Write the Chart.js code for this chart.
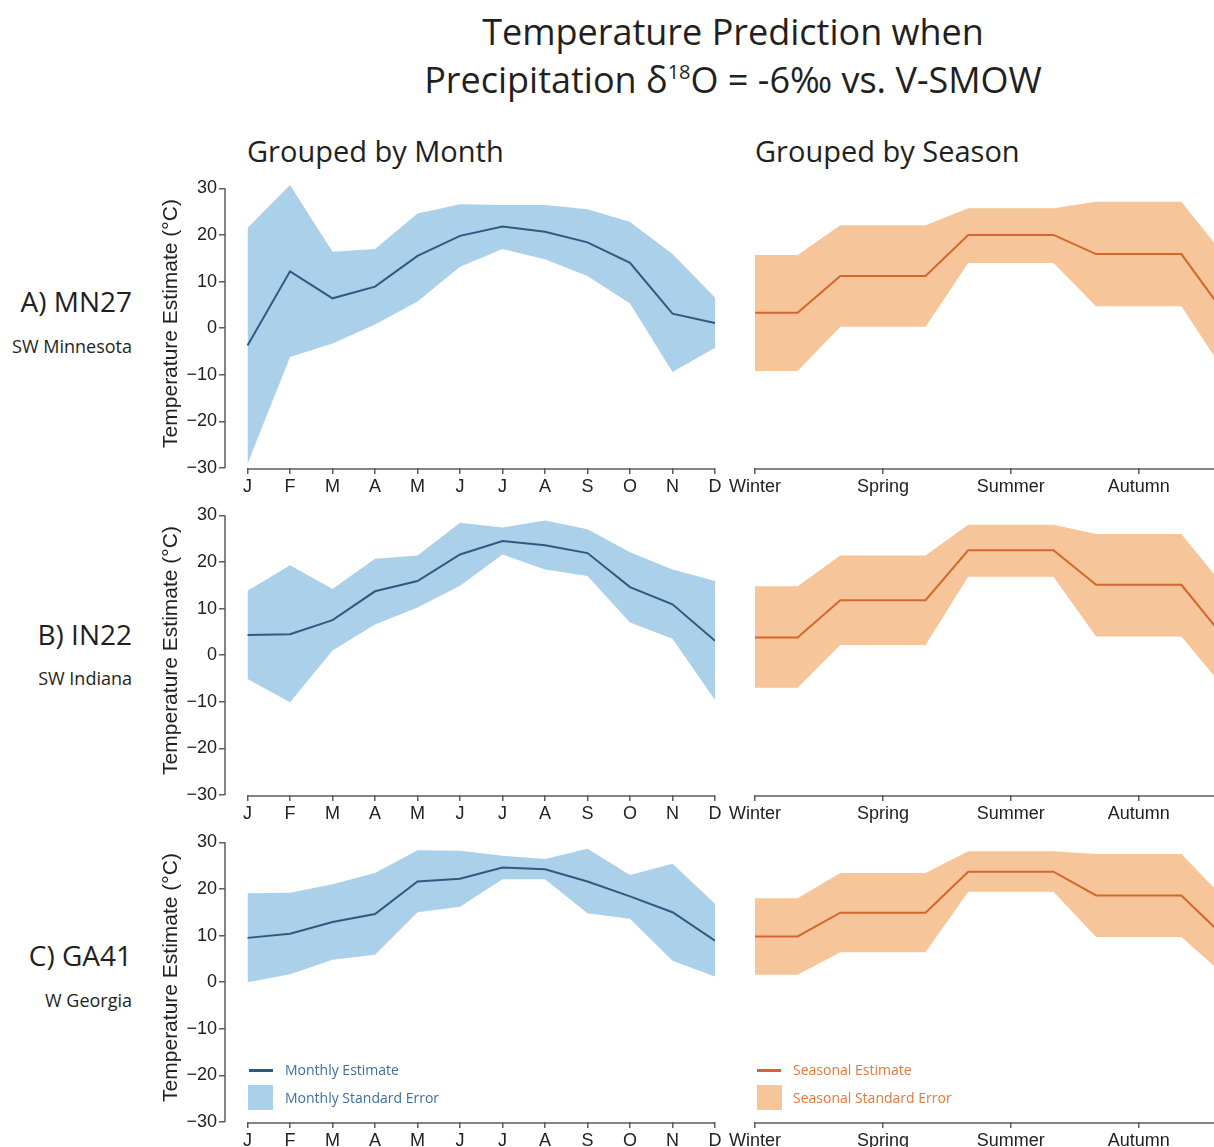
<!DOCTYPE html>
<html>
<head>
<meta charset="utf-8">
<title>Temperature Prediction</title>
<script src="https://cdn.jsdelivr.net/npm/chart.js"></script>
<style>
  html, body { margin: 0; padding: 0; background: #fff; }
  body { width: 1214px; height: 1147px; overflow: hidden; position: relative; }
  canvas { position: absolute; }
  .txt { position: absolute; font-family: 'Open Sans', sans-serif; color: #231f20; white-space: nowrap; line-height: 1; }
  .title { left: 733px; transform: translateX(-50%); text-align: center; font-size: 36px; line-height: 48px; top: 8px; }
  .title sup { font-size: 20px; vertical-align: 14px; line-height: 0; }
  .sub { font-size: 29px; top: 136px; }
  .site { right: 1082px; font-size: 28px; }
  .region { right: 1082px; font-size: 18px; }
  .leg { font-size: 14px; }
  .swl { position: absolute; height: 3px; width: 24px; }
  .swb { position: absolute; width: 25px; height: 25px; }
</style>
</head>
<body>

<div class="txt title">Temperature Prediction when<br>Precipitation &delta;<sup>18</sup>O = -6&permil; vs. V-SMOW</div>
<div class="txt sub" style="left:247px">Grouped by Month</div>
<div class="txt sub" style="left:755px">Grouped by Season</div>

<div class="txt site" style="top:287px">A) MN27</div>
<div class="txt region" style="top:337px">SW Minnesota</div>
<div class="txt site" style="top:620px">B) IN22</div>
<div class="txt region" style="top:669px">SW Indiana</div>
<div class="txt site" style="top:941px">C) GA41</div>
<div class="txt region" style="top:991px">W Georgia</div>

<canvas id="mA" width="572" height="332" style="left:153px;top:166px"></canvas>
<canvas id="sA" width="514" height="332" style="left:720px;top:166px"></canvas>
<canvas id="mB" width="572" height="332" style="left:153px;top:493px"></canvas>
<canvas id="sB" width="514" height="332" style="left:720px;top:493px"></canvas>
<canvas id="mC" width="572" height="332" style="left:153px;top:820px"></canvas>
<canvas id="sC" width="514" height="332" style="left:720px;top:820px"></canvas>

<div class="swl" style="left:249px;top:1069px;background:#2f5a80"></div>
<div class="txt leg" style="left:285px;top:1063px;color:#3f6f9d">Monthly Estimate</div>
<div class="swb" style="left:248px;top:1085px;background:#abd0ea"></div>
<div class="txt leg" style="left:285px;top:1091px;color:#3f6f9d">Monthly Standard Error</div>
<div class="swl" style="left:757px;top:1069px;background:#d5672c"></div>
<div class="txt leg" style="left:793px;top:1063px;color:#e07a3e">Seasonal Estimate</div>
<div class="swb" style="left:757px;top:1085px;background:#f6c599"></div>
<div class="txt leg" style="left:793px;top:1091px;color:#e07a3e">Seasonal Standard Error</div>

<script>
const months = ['J', 'F', 'M', 'A', 'M', 'J', 'J', 'A', 'S', 'O', 'N', 'D'];
const seasons = ['Winter', 'Spring', 'Summer', 'Autumn'];
// Jan..Dec -> season index (Dec/Jan/Feb = winter)
const seasonOfMonth = [0, 0, 1, 1, 1, 2, 2, 2, 3, 3, 3, 0];

// A) MN27
const mnEst = [-3.7, 12.2, 6.4, 8.9, 15.5, 19.8, 21.8, 20.7, 18.4, 14.0, 3.1, 1.1];
const mnHi = [21.5, 30.7, 16.4, 17.0, 24.6, 26.6, 26.4, 26.4, 25.5, 22.8, 15.9, 6.6];
const mnLo = [-29.1, -6.2, -3.3, 0.8, 5.7, 13.2, 17.0, 14.8, 11.2, 5.3, -9.4, -4.2];
const mnSeasEst = [3.3, 11.2, 20.0, 15.9];
const mnSeasHi = [15.7, 22.1, 25.7, 27.1];
const mnSeasLo = [-9.2, 0.3, 14.0, 4.7];

// B) IN22
const inEst = [4.3, 4.5, 7.5, 13.7, 15.9, 21.6, 24.5, 23.6, 21.9, 14.6, 10.9, 3.1];
const inHi = [13.8, 19.3, 14.2, 20.7, 21.4, 28.4, 27.4, 28.9, 27.0, 22.1, 18.4, 15.9];
const inLo = [-5.1, -10.1, 1.0, 6.6, 10.2, 14.9, 21.6, 18.4, 17.0, 7.0, 3.5, -9.6];
const inSeasEst = [3.8, 11.8, 22.5, 15.1];
const inSeasHi = [14.8, 21.4, 28.0, 26.0];
const inSeasLo = [-7.0, 2.2, 16.8, 4.0];

// C) GA41
const gaEst = [9.5, 10.4, 12.9, 14.6, 21.6, 22.2, 24.6, 24.2, 21.6, 18.4, 15.0, 8.9];
const gaHi = [19.1, 19.2, 21.0, 23.4, 28.3, 28.2, 27.1, 26.4, 28.6, 23.0, 25.4, 16.8];
const gaLo = [0.0, 1.7, 4.8, 5.9, 15.0, 16.2, 22.1, 22.1, 14.8, 13.6, 4.6, 1.2];
const gaSeasEst = [9.8, 14.9, 23.7, 18.6];
const gaSeasHi = [18.0, 23.4, 28.1, 27.5];
const gaSeasLo = [1.6, 6.4, 19.4, 9.7];

const yTicks = [-30, -20, -10, 0, 10, 20, 30];

Chart.defaults.font.family = "'Liberation Sans', Arial, sans-serif";
Chart.defaults.font.size = 18;
Chart.defaults.color = '#222';

// axis lines drawn separately so the x axis starts at the first month
const axisLines = {
  id: 'axisLines',
  afterDraw(chart, args, opts) {
    const { ctx, scales: { x, y }, chartArea } = chart;
    const yMin = yTicks[0], yMax = yTicks[yTicks.length - 1];
    ctx.save();
    ctx.strokeStyle = '#5c5c5c';
    ctx.lineWidth = 1.5;
    ctx.beginPath();
    const yb = y.getPixelForValue(yMin) + 1;
    ctx.moveTo(x.getPixelForValue(0), yb);
    ctx.lineTo(x.getPixelForValue(11), yb);
    if (opts.yLine) {
      ctx.moveTo(chartArea.left, y.getPixelForValue(yMax));
      ctx.lineTo(chartArea.left, y.getPixelForValue(yMin));
    }
    ctx.stroke();
    ctx.restore();
  }
};

function pts(vals) {
  return vals.map((v, i) => ({ x: i, y: v }));
}

function bySeason(vals) {
  return seasonOfMonth.map((s, i) => ({ x: i, y: vals[s] }));
}

function makeChart(id, est, hi, lo, lineColor, bandColor, monthly) {
  const xScale = {
    type: 'linear',
    min: monthly ? -0.53 : 0,
    max: 11,
    border: { display: false },
    grid: { drawOnChartArea: false, drawTicks: true, tickLength: 6, color: '#5c5c5c', lineWidth: 1.5 },
    ticks: {
      includeBounds: false,
      stepSize: monthly ? 1 : 3,
      autoSkip: false,
      maxRotation: 0,
      padding: 2,
      color: '#222',
      callback: v => monthly ? months[v] : seasons[v / 3]
    },
    afterFit: s => { s.height = 30; }
  };
  const yScale = {
    min: yTicks[0],
    max: 32,
    display: monthly,
    border: { display: false },
    grid: { drawOnChartArea: false, drawTicks: true, tickLength: 6, color: '#5c5c5c', lineWidth: 1.5 },
    ticks: {
      includeBounds: false,
      stepSize: 5,
      padding: 2,
      color: '#222',
      callback: v => yTicks.includes(v) ? (v < 0 ? '\u2212' + Math.abs(v) : String(v)) : ''
    },
    title: { display: true, text: 'Temperature Estimate (\u00b0C)', font: { size: 21 }, color: '#222', padding: { top: 6, bottom: 2 } }
  };
  if (monthly) yScale.afterFit = s => { s.width = 72; };
  return new Chart(document.getElementById(id), {
    type: 'line',
    data: {
      datasets: [
        { data: est, borderColor: lineColor, borderWidth: 2, pointRadius: 0, fill: false, tension: 0 },
        { data: hi, borderWidth: 0, borderColor: 'rgba(0,0,0,0)', backgroundColor: bandColor, pointRadius: 0, fill: '+1', tension: 0 },
        { data: lo, borderWidth: 0, borderColor: 'rgba(0,0,0,0)', pointRadius: 0, fill: false, tension: 0 }
      ]
    },
    options: {
      responsive: false,
      animation: false,
      layout: { padding: { top: 13, right: 10, bottom: 0, left: monthly ? 0 : 35 } },
      plugins: { legend: { display: false }, tooltip: { enabled: false }, axisLines: { yLine: monthly } },
      scales: { x: xScale, y: yScale }
    },
    plugins: [axisLines]
  });
}

const blueLine = '#2f5a80', blueBand = '#abd0ea';
const orangeLine = '#d5672c', orangeBand = '#f6c599';

makeChart('mA', pts(mnEst), pts(mnHi), pts(mnLo), blueLine, blueBand, true);
makeChart('sA', bySeason(mnSeasEst), bySeason(mnSeasHi), bySeason(mnSeasLo), orangeLine, orangeBand, false);
makeChart('mB', pts(inEst), pts(inHi), pts(inLo), blueLine, blueBand, true);
makeChart('sB', bySeason(inSeasEst), bySeason(inSeasHi), bySeason(inSeasLo), orangeLine, orangeBand, false);
makeChart('mC', pts(gaEst), pts(gaHi), pts(gaLo), blueLine, blueBand, true);
makeChart('sC', bySeason(gaSeasEst), bySeason(gaSeasHi), bySeason(gaSeasLo), orangeLine, orangeBand, false);
</script>
</body>
</html>
